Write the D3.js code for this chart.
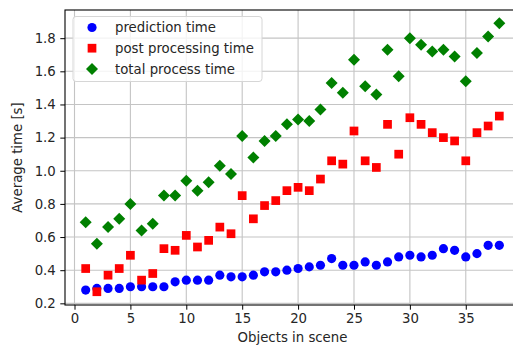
<!DOCTYPE html>
<html>
<head>
<meta charset="utf-8">
<script src="https://cdn.jsdelivr.net/npm/d3@7"></script>
<style>
  body { margin: 0; background: #fff; }
  svg { display: block; font-family: "DejaVu Sans", sans-serif; }
</style>
</head>
<body>
<div id="chart"></div>
<script>
// values
const objects = d3.range(1, 39);
const predictionTime = [0.28, 0.29, 0.29, 0.29, 0.30, 0.30, 0.30, 0.30, 0.33, 0.34,
  0.34, 0.34, 0.37, 0.36, 0.36, 0.37, 0.39, 0.39, 0.40, 0.41,
  0.42, 0.43, 0.47, 0.43, 0.43, 0.45, 0.43, 0.45, 0.48, 0.49,
  0.48, 0.49, 0.53, 0.52, 0.48, 0.50, 0.55, 0.55];
const postTime = [0.41, 0.27, 0.37, 0.41, 0.49, 0.34, 0.38, 0.53, 0.52, 0.61,
  0.54, 0.58, 0.66, 0.62, 0.85, 0.71, 0.79, 0.82, 0.88, 0.90,
  0.88, 0.95, 1.06, 1.04, 1.24, 1.06, 1.02, 1.28, 1.10, 1.32,
  1.28, 1.23, 1.20, 1.18, 1.06, 1.23, 1.27, 1.33];
const totalTime = [0.69, 0.56, 0.66, 0.71, 0.80, 0.64, 0.68, 0.85, 0.85, 0.94,
  0.88, 0.93, 1.03, 0.98, 1.21, 1.08, 1.18, 1.21, 1.28, 1.31,
  1.30, 1.37, 1.53, 1.47, 1.67, 1.51, 1.46, 1.73, 1.57, 1.80,
  1.76, 1.72, 1.73, 1.69, 1.54, 1.71, 1.81, 1.89];
const xTicks = [0, 5, 10, 15, 20, 25, 30, 35];
const yTicks = [0.2, 0.4, 0.6, 0.8, 1.0, 1.2, 1.4, 1.6, 1.8];

const width = 513, height = 349;
const margin = {left: 65, top: 10, right: 520, bottom: 305};
const fontSize = '13.3px';

const x = d3.scaleLinear().domain([-0.85, 39.85]).range([margin.left, margin.right]);
const y = d3.scaleLinear().domain([0.19, 1.97]).range([margin.bottom, margin.top]);

const svg = d3.select('#chart').append('svg')
    .attr('width', width)
    .attr('height', height);

// grid
const grid = svg.append('g');
grid.selectAll('.gx').data(xTicks).enter().append('line')
    .attr('x1', d => x(d)).attr('x2', d => x(d))
    .attr('y1', margin.top).attr('y2', margin.bottom)
    .style('stroke', '#c4c4c4').style('stroke-width', 1.1);
grid.selectAll('.gy').data(yTicks).enter().append('line')
    .attr('x1', margin.left).attr('x2', margin.right)
    .attr('y1', d => y(d)).attr('y2', d => y(d))
    .style('stroke', '#c4c4c4').style('stroke-width', 1.1);

// matplotlib-like markers: circle, square, square turned 45deg
const series = [
  {name: 'prediction time', values: predictionTime, color: '#0000ff', shape: d3.symbolCircle, size: 66, rot: 0},
  {name: 'post processing time', values: postTime, color: '#ff0000', shape: d3.symbolSquare, size: 76, rot: 0},
  {name: 'total process time', values: totalTime, color: '#008000', shape: d3.symbolSquare, size: 72, rot: 45}
];

series.forEach(s => {
  svg.append('g').selectAll('path').data(objects).enter().append('path')
      .attr('d', d3.symbol().type(s.shape).size(s.size))
      .attr('transform', (d, i) => `translate(${x(d)},${y(s.values[i])}) rotate(${s.rot})`)
      .style('fill', s.color);
});

// axes
const xAxis = svg.append('g')
    .attr('transform', `translate(0,${margin.bottom})`)
    .call(d3.axisBottom(x).tickValues(xTicks).tickSize(4.7).tickPadding(4).tickFormat(d3.format('d')));
const yAxis = svg.append('g')
    .attr('transform', `translate(${margin.left},0)`)
    .call(d3.axisLeft(y).tickValues(yTicks).tickSize(4.7).tickPadding(4.5).tickFormat(d3.format('.1f')));
[xAxis, yAxis].forEach(a => {
  a.selectAll('text').style('font-size', fontSize).style('fill', '#262626')
      .style('font-family', '"DejaVu Sans", sans-serif');
  a.select('.domain').remove();
});

// spines
svg.append('rect')
    .attr('x', margin.left).attr('y', margin.top)
    .attr('width', margin.right - margin.left).attr('height', margin.bottom - margin.top)
    .style('fill', 'none').style('stroke', '#000').style('stroke-width', 1.1);

// axis labels
svg.append('text')
    .attr('x', (margin.left + margin.right) / 2).attr('y', 342)
    .attr('text-anchor', 'middle')
    .style('font-size', fontSize).style('fill', '#262626')
    .text('Objects in scene');
svg.append('text')
    .attr('transform', `translate(22,${(margin.top + margin.bottom) / 2}) rotate(-90)`)
    .attr('text-anchor', 'middle')
    .style('font-size', fontSize).style('fill', '#262626')
    .text('Average time [s]');

// legend
const legend = svg.append('g');
legend.append('rect')
    .attr('x', 73).attr('y', 16.5).attr('width', 189).attr('height', 65)
    .attr('rx', 3)
    .style('fill', '#fff').style('fill-opacity', 0.8)
    .style('stroke', '#d6d6d6').style('stroke-width', 1);
series.forEach((s, i) => {
  const ly = 27.5 + i * 20.7;
  legend.append('path')
      .attr('d', d3.symbol().type(s.shape).size(s.size))
      .attr('transform', `translate(92,${ly}) rotate(${s.rot})`)
      .style('fill', s.color);
  legend.append('text')
      .attr('x', 115).attr('y', ly).attr('dy', '0.35em')
      .style('font-size', fontSize).style('fill', '#262626')
      .text(s.name);
});
</script>
</body>
</html>
